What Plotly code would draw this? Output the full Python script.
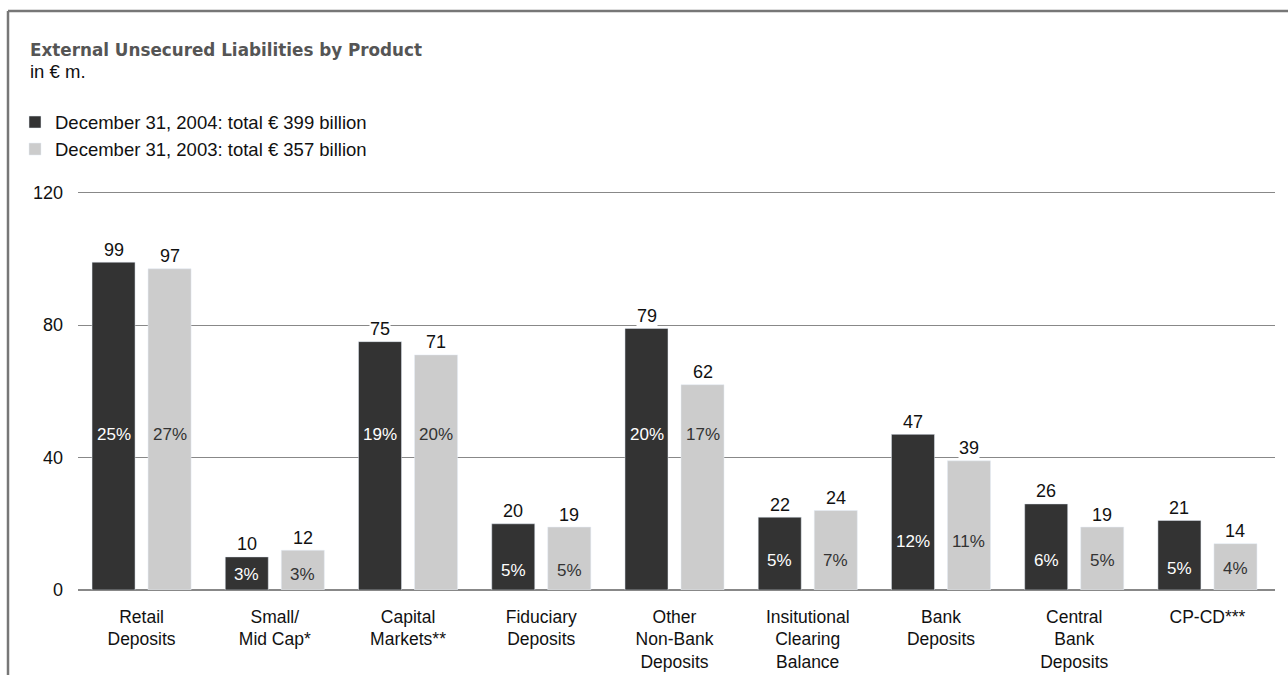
import plotly.graph_objects as go

categories = ["Retail<br>Deposits", "Small/<br>Mid Cap*", "Capital<br>Markets**", "Fiduciary<br>Deposits",
              "Other<br>Non-Bank<br>Deposits", "Insitutional<br>Clearing<br>Balance", "Bank<br>Deposits",
              "Central<br>Bank<br>Deposits", "CP-CD***"]
values_2004 = [99, 10, 75, 20, 79, 22, 47, 26, 21]
values_2003 = [97, 12, 71, 19, 62, 24, 39, 19, 14]
pct_2004 = ["25%", "3%", "19%", "5%", "20%", "5%", "12%", "6%", "5%"]
pct_2003 = ["27%", "3%", "20%", "5%", "17%", "7%", "11%", "5%", "4%"]
name_2004 = "December 31, 2004: total € 399 billion"
name_2003 = "December 31, 2003: total € 357 billion"

# vertical placement of the percentage labels inside the bars (data units)
pct_label_y = [47, 4.8, 47, 6, 47, 9, 14.5, 9, 6.5]

DARK = "#333333"
LIGHT = "#cccccc"
FONT = "Liberation Sans, Arial, sans-serif"

YMAX = 122
W, H = 1288, 675
L, R, B = 78, 13, 85
PH_TARGET = 397 * YMAX / 120
T = int(round(H - B - PH_TARGET))
PW, PH = W - L - R, H - T - B


def px(xp):
    return (xp - L) / PW


def py(yp):
    return (H - B - yp) / PH


fig = go.Figure()
fig.add_trace(go.Bar(x=categories, y=values_2004, name=name_2004, marker_color=DARK,
                     legendgroup="a", hoverinfo="skip"))
fig.add_trace(go.Bar(x=categories, y=values_2003, name=name_2003, marker_color=LIGHT,
                     legendgroup="b", hoverinfo="skip"))

annotations = []
for i, cat in enumerate(categories):
    annotations.append(dict(x=cat, y=values_2004[i], xref="x", yref="y", text=str(values_2004[i]),
                            showarrow=False, xshift=-28, yanchor="bottom", yshift=1.5, bgcolor="white",
                            borderpad=0, font=dict(size=18, color="#111111", family=FONT)))
    annotations.append(dict(x=cat, y=values_2003[i], xref="x", yref="y", text=str(values_2003[i]),
                            showarrow=False, xshift=28, yanchor="bottom", yshift=1.5, bgcolor="white",
                            borderpad=0, font=dict(size=18, color="#111111", family=FONT)))
    annotations.append(dict(x=cat, y=pct_label_y[i], xref="x", yref="y", text=pct_2004[i],
                            showarrow=False, xshift=-28, font=dict(size=17, color="white", family=FONT)))
    annotations.append(dict(x=cat, y=pct_label_y[i], xref="x", yref="y", text=pct_2003[i],
                            showarrow=False, xshift=28, font=dict(size=17, color="#333333", family=FONT)))

annotations.append(dict(xref="paper", yref="paper", x=px(28), y=py(50),
                        text="<b>External Unsecured Liabilities by Product</b>",
                        showarrow=False, xanchor="left", yanchor="middle",
                        font=dict(size=16.8, color="#555555", family="DejaVu Sans, Liberation Sans, sans-serif")))
annotations.append(dict(xref="paper", yref="paper", x=px(28), y=py(72),
                        text="in € m.", showarrow=False, xanchor="left", yanchor="middle",
                        font=dict(size=18.5, color="#111111", family=FONT)))

fig.update_layout(
    width=W, height=H,
    margin=dict(l=L, r=R, t=T, b=B, autoexpand=False),
    paper_bgcolor="white", plot_bgcolor="white",
    barmode="group", bargap=0.159, bargroupgap=0.232,
    font=dict(family=FONT, color="#111111"),
    showlegend=True,
    legend=dict(xref="container", yref="container", x=15 / W, y=1 - 103.5 / H,
                xanchor="left", yanchor="top", orientation="v", traceorder="grouped",
                tracegroupgap=0, font=dict(size=18.5, color="#111111", family=FONT),
                bgcolor="rgba(0,0,0,0)"),
    annotations=annotations,
    shapes=[
        dict(type="line", xref="paper", yref="paper", x0=px(8), x1=px(W + 5), y0=py(11), y1=py(11),
             line=dict(color="#777777", width=2.5)),
        dict(type="line", xref="paper", yref="paper", x0=px(8), x1=px(8), y0=py(11), y1=py(H + 5),
             line=dict(color="#777777", width=2.5)),
    ],
)
fig.update_xaxes(range=[-0.477, 8.507], showgrid=False, showline=False, ticks="",
                 tickfont=dict(size=17.5, color="#111111", family=FONT), ticklabelstandoff=14)
fig.update_yaxes(range=[0, YMAX], tickvals=[0, 40, 80, 120], showgrid=True, gridcolor="#888888", gridwidth=1,
                 zeroline=True, zerolinecolor="#888888", zerolinewidth=1.5, showline=False,
                 tickfont=dict(size=18, color="#111111", family=FONT), ticklabelstandoff=14)

fig.write_html("out.html", post_script="document.body.style.margin='0';",
               config={"displayModeBar": False})
